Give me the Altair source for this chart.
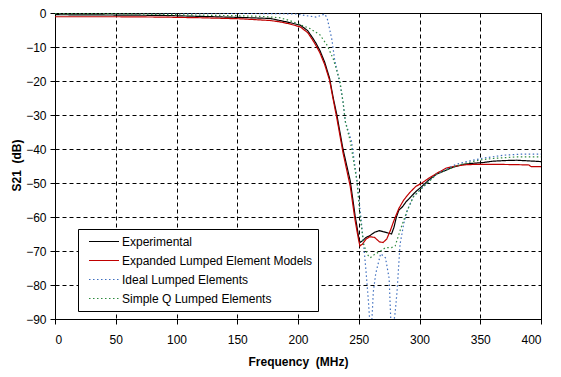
import altair as alt
import pandas as pd

# ---- data ----
series_names = ["Experimental", "Expanded Lumped Element Models",
                "Ideal Lumped Elements", "Simple Q Lumped Elements"]

exp_f = [0, 50, 87, 120, 152, 177, 185, 193, 202, 208, 212, 215, 218, 222, 226, 229, 232,
         237, 243, 247, 250, 251, 253, 256, 259, 263, 267, 270, 273, 277, 279, 281, 283,
         286, 289, 292, 297, 302, 308, 314, 320, 328, 336, 344, 352, 360, 370, 380, 390, 400]
exp_db = [-0.5, -0.6, -0.7, -1.0, -1.3, -1.6, -2.2, -2.8, -3.6, -5.2, -7.3, -9.0, -11.0,
          -14.5, -19.2, -25.0, -30.0, -40.0, -49.4, -59.6, -66.0, -67.5, -67.0, -66.0,
          -65.5, -64.5, -64.0, -64.3, -64.6, -65.0, -63.0, -60.0, -58.0, -57.0, -55.5,
          -54.4, -52.5, -51.0, -49.0, -47.4, -46.5, -45.3, -44.5, -44.2, -44.0, -43.6,
          -43.4, -43.3, -43.5, -43.7]

elm_f = [0, 50, 87, 120, 152, 177, 185, 193, 202, 208, 212, 215, 218, 222, 226, 229, 232,
         237, 243, 247, 250, 251, 253, 256, 259, 263, 267, 270, 273, 276, 279, 283, 287,
         292, 297, 302, 308, 314, 322, 330, 339, 350, 360, 380, 390, 392, 400]
elm_db = [-1.1, -1.1, -1.2, -1.4, -1.7, -2.2, -2.6, -3.2, -4.1, -5.8, -7.9, -9.7, -11.7,
          -15.2, -19.8, -25.5, -31.0, -41.0, -51.0, -61.0, -67.0, -68.5, -68.0, -66.5,
          -65.8, -66.0, -67.3, -67.5, -66.5, -64.0, -61.0, -57.5, -55.0, -52.8, -51.0,
          -50.0, -48.5, -47.2, -45.6, -45.0, -44.6, -44.5, -44.5, -44.6, -44.7, -45.2, -45.2]

ideal_f = [0, 100, 150, 185, 199, 207, 215, 222, 224, 226, 228, 230, 234.6, 237, 239,
           244, 248.6, 251.6, 254, 256, 258, 260, 262, 264, 268, 272, 275, 277, 280,
           281.5, 284, 287, 290, 295, 302, 314, 330, 340, 352, 370, 385, 400]
ideal_db = [0.0, 0.0, -0.1, -0.2, -0.3, -0.8, -1.2, -0.3, -1.5, -4.7, -8.0, -13.4, -21.0,
            -26.0, -32.0, -37.7, -49.4, -59.6, -68.0, -76.0, -85.0, -96.0, -82.0, -76.6,
            -70.8, -72.0, -78.0, -96.0, -88.0, -82.0, -68.0, -62.0, -58.0, -54.0, -51.5,
            -47.4, -44.5, -43.6, -42.7, -41.8, -41.5, -41.5]

simq_f = [0, 50, 100, 150, 170, 185, 193, 201, 210, 218, 224, 229, 234.5, 237, 239, 243,
          248.5, 251, 253, 254, 257, 259.5, 263, 268, 272, 277, 280, 284, 287, 290, 295,
          302, 314, 330, 340, 350, 360, 380, 400]
simq_db = [-0.2, -0.2, -0.5, -0.8, -1.0, -1.4, -2.2, -3.3, -4.6, -6.4, -9.5, -13.5, -20.0,
           -26.0, -32.0, -37.7, -49.4, -59.6, -65.0, -68.0, -71.0, -72.0, -71.0, -70.0,
           -69.0, -69.0, -68.5, -64.0, -61.0, -58.0, -54.0, -51.5, -47.4, -45.0, -44.0,
           -43.2, -42.8, -42.3, -42.3]

x_ticks = [0, 50, 100, 150, 200, 250, 300, 350, 400]
y_ticks = [0, -10, -20, -30, -40, -50, -60, -70, -80, -90]

colors = ["#000000", "#C00000", "#3F6FBF", "#2E8B3E"]
dashes = [[1, 0], [1, 0], [1.5, 2.5], [1.5, 2.5]]

rows = []
for name, fs, vs in zip(series_names,
                        [exp_f, elm_f, ideal_f, simq_f],
                        [exp_db, elm_db, ideal_db, simq_db]):
    for i, (f, v) in enumerate(zip(fs, vs)):
        rows.append({"series": name, "f": f, "db": v, "i": i})
df = pd.DataFrame(rows)

FONT = "Liberation Sans"

legend_common = dict(title=None, orient="none", legendX=23, legendY=216)

chart = alt.Chart(df).mark_line(clip=True, strokeWidth=1.2).encode(
    x=alt.X("f:Q", scale=alt.Scale(domain=[0, 400], nice=False),
            axis=alt.Axis(values=x_ticks, title="Frequency\u00a0\u00a0(MHz)",
                          titleX=243, titleY=42, titleBaseline="middle",
                          labelPadding=10)),
    y=alt.Y("db:Q", scale=alt.Scale(domain=[-90, 0], nice=False),
            axis=alt.Axis(values=y_ticks, title="S21\u00a0\u00a0(dB)",
                          titleX=-39, titleY=152, titleBaseline="middle",
                          titleAlign="center", labelPadding=4)),
    color=alt.Color("series:N",
                    scale=alt.Scale(domain=series_names, range=colors),
                    legend=alt.Legend(**legend_common,
                                      symbolType="stroke", symbolSize=900,
                                      symbolStrokeWidth=1.2, symbolOffset=5,
                                      labelFont=FONT, labelFontSize=12,
                                      labelColor="black", labelLimit=300,
                                      fillColor="white", strokeColor="black",
                                      padding=5, rowPadding=4, clipHeight=15,
                                      labelOffset=2)),
    strokeDash=alt.StrokeDash("series:N",
                              scale=alt.Scale(domain=series_names, range=dashes),
                              legend=alt.Legend(**legend_common)),
    order="i:Q",
).properties(
    width=486, height=306,
    autosize=alt.AutoSizeParams(type="none"),
    padding={"left": 47, "top": 5, "right": 12, "bottom": 58},
).configure_view(
    stroke="black", strokeWidth=1
).configure_axis(
    labelFont=FONT, labelFontSize=12, labelColor="black",
    titleFont=FONT, titleFontSize=12, titleFontWeight="bold", titleColor="black",
    domainColor="black", tickColor="black", tickSize=5,
    gridColor="black", gridDash=[4, 3], gridOpacity=1, gridWidth=1,
)

chart.save("out.html", embed_options={"renderer": "svg", "actions": False})
